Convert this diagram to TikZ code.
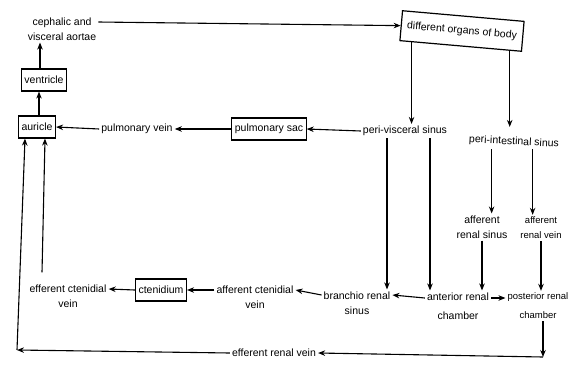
\documentclass[tikz,border=0pt]{standalone}
\usepackage{fontspec}
\setmainfont{Liberation Sans}
\usetikzlibrary{arrows.meta,calc}
\begin{document}
\begin{tikzpicture}[x=1pt,y=-1pt,
  font=\fontsize{10.5}{15}\selectfont,
  box/.style={draw, line width=1.2pt, inner sep=3pt, minimum height=22pt},
  lbl/.style={align=center, inner sep=2pt},
  arr/.style={-{Stealth[length=7pt,width=5.5pt]}, line width=1.1pt}]
\useasboundingbox (0,0) rectangle (573,381);

% nodes
\node[lbl] (cva) at (62,29) {cephalic and\\visceral aortae};
\node[box, rotate=-5, minimum width=122pt, minimum height=30pt] (org) at (462,31) {different organs of body};
\node[box] (ven) at (44,80) {ventricle};
\node[box] (aur) at (37,127) {auricle};
\node[lbl] (pv) at (137,129) {pulmonary vein};
\node[box] (ps) at (269,129) {pulmonary sac};
\node[lbl] (pvs) at (405,131) {peri-visceral sinus};
\node[lbl, rotate=-3] (pis) at (514,142) {peri-intestinal sinus};
\node[lbl] (ars) at (482,227) {afferent\\renal sinus};
\node[lbl, font=\fontsize{9.5}{15}\selectfont] (arv) at (541,228) {afferent\\renal vein};
\node[lbl] (brs) at (357,303) {branchio renal\\sinus};
\node[lbl, font=\fontsize{10.5}{19}\selectfont] (arc) at (458,306) {anterior renal\\chamber};
\node[lbl, font=\fontsize{9.5}{19}\selectfont] (prc) at (538,306) {posterior renal\\chamber};
\node[lbl] (acv) at (255,297) {afferent ctenidial\\vein};
\node[box] (cte) at (161,290) {ctenidium};
\node[lbl] (ecv) at (68,296) {efferent ctenidial\\vein};
\node[lbl] (erv) at (274,353) {efferent renal vein};
\coordinate (c1) at (543,357);
\coordinate (c2) at (17,350);

% helper coordinates
\coordinate (o1) at ($(org.south west)!0.1!(org.south east)$);
\coordinate (o2) at ($(org.south west)!0.9!(org.south east)$);
\coordinate (o2e) at (o2 |- pvs.north);
\coordinate (p1) at ([xshift=-18pt]pvs.south);
\coordinate (p2) at ([xshift=25pt]pvs.south);
\coordinate (q1) at ([xshift=-22pt]pis.south);
\coordinate (q2) at ([xshift=19pt]pis.south);
\coordinate (a1) at ([xshift=2pt]aur.north);
\coordinate (v1) at ([xshift=-4pt]ven.north);
\coordinate (e1) at ([xshift=-26pt,yshift=10pt]ecv.north);

% connectors
\draw[arr] ([yshift=7pt]cva.east) -- (org.west);
\draw[arr] (v1) -- (v1 |- cva.south);
\draw[arr] (a1) -- (a1 |- ven.south);
\draw[arr] (pv.west) -- (aur.east);
\draw[arr] (ps.west) -- (pv.east);
\draw[arr] (pvs.west) -- (ps.east);
\draw[arr] (o1) -- (o1 |- pvs.north);
\draw[arr] (o2) -- ([yshift=-3pt]o2e);
\draw[arr] (p1) -- (p1 |- brs.north);
\draw[arr] (p2) -- (p2 |- arc.north);
\draw[arr] (q1) -- (q1 |- ars.north);
\draw[arr] (q2) -- (q2 |- arv.north);
\draw[arr] (ars.south) -- (ars.south |- arc.north);
\draw[arr] (arv.south) -- (arv.south |- prc.north);
\draw[arr] ([yshift=8pt]arc.west) -- ([yshift=8pt]brs.east);
\draw[arr] ([yshift=8pt]arc.east) -- ([yshift=8pt]prc.west);
\draw[arr] ([yshift=8pt]brs.west) -- ([yshift=7pt]acv.east);
\draw[arr] ([yshift=7pt]acv.west) -- (cte.east);
\draw[arr] (cte.west) -- ([yshift=7pt]ecv.east);
\draw[arr] (e1) -- ([xshift=8pt]aur.south);
\draw[arr] (c1 |- prc.south) -- (c1);
\draw[arr] (c1) -- (erv.east);
\draw[arr] (erv.west) -- (c2);
\draw[arr] (c2) -- ([xshift=-12pt]aur.south);
\end{tikzpicture}
\end{document}
